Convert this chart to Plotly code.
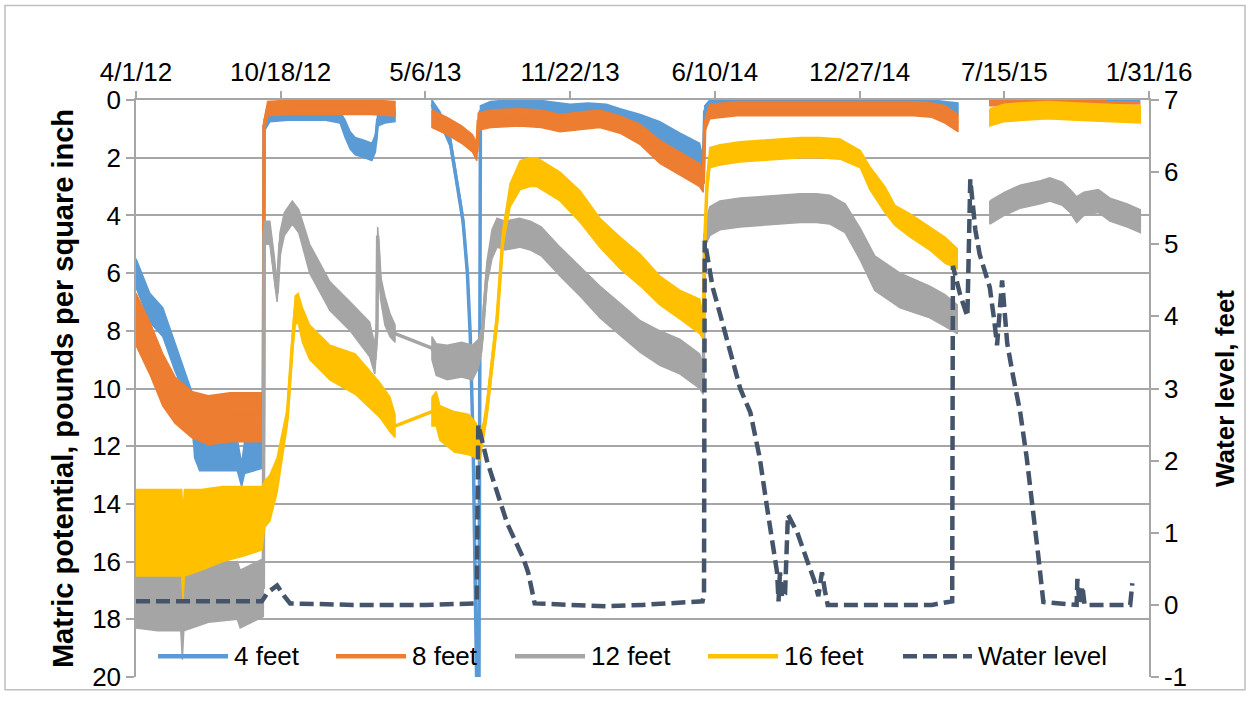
import plotly.graph_objects as go
import pandas as pd

# ---------------- data (days since 4/1/2012) ----------------
START = pd.Timestamp("2012-04-01")

ft4_day = [0, 19, 37, 54, 68, 77, 81, 88, 110, 140, 146, 150, 176, 177, 185, 210, 240, 262, 282, 289, 296, 303, 316, 326, 331, 334, 344, 358, None,
           409, 420, 434, 438, 445, 452, 458, 462, 466, 469, 471, 474, 476, 490, 515, 540, 570, 600, 625, 650, 669, 697, 724, 752, 779, 784,
           786, 793, 830, 870, 910, 950, 990, 1030, 1070, 1100, 1118, 1136, None,
           1180, 1220, 1260, 1300, 1340, 1388]
ft4_val = [6.0, 7.2, 7.7, 8.9, 9.8, 10.5, 11.9, 12.3, 12.3, 12.3, 13.0, 12.4, 12.2, 0.9, 0.55, 0.5, 0.5, 0.5, 0.6, 1.0, 1.4, 1.6, 1.7, 1.8, 1.5, 0.7, 0.6, 0.55, None,
           0.15, 0.6, 1.4, 2.0, 3.0, 4.2, 6.0, 8.2, 12.0, 17.0, 20.5, 20.5, 0.4, 0.25, 0.2, 0.15, 0.25, 0.35, 0.35, 0.4, 0.55, 0.8, 1.1, 1.5, 1.9, 2.4,
           0.4, 0.15, 0.15, 0.15, 0.15, 0.15, 0.15, 0.15, 0.15, 0.15, 0.2, 0.3, None,
           0.05, 0.05, 0.05, 0.05, 0.05, 0.05]
ft4_noise = [0.5, 0.5, 0.5, 0.5, 0.4, 0.4, 0.5, 0.55, 0.55, 0.55, 0.4, 0.55, 0.55, 0.2, 0.2, 0.2, 0.2, 0.2, 0.2, 0.3, 0.3, 0.3, 0.3, 0.3, 0.3, 0.2, 0.2, 0.2, None,
             0.15, 0.2, 0.2, 0.2, 0.2, 0.2, 0.2, 0.15, 0.1, 0, 0, 0, 0.2, 0.2, 0.2, 0.2, 0.2, 0.2, 0.25, 0.25, 0.25, 0.3, 0.35, 0.35, 0.4, 0.3,
             0.2, 0.15, 0.15, 0.15, 0.15, 0.15, 0.15, 0.15, 0.15, 0.15, 0.15, 0.2, None,
             0.05, 0.05, 0.05, 0.05, 0.05, 0.05]

ft8_day = [0, 19, 37, 54, 77, 100, 130, 150, 176, 177, 182, 215, 250, 290, 325, 358, None,
           409, 430, 450, 465, 471, 473, 490, 530, 560, 586, 620, 641, 669, 697, 724, 752, 779, 784,
           786, 793, 830, 865, 900, 935, 970, 1010, 1050, 1075, 1100, 1118, 1136, None,
           1180, 1220, 1260, 1300, 1340, 1388]
ft8_val = [7.6, 8.6, 9.7, 10.4, 10.9, 11.1, 11.0, 11.0, 11.0, 0.9, 0.3, 0.25, 0.25, 0.25, 0.25, 0.3, None,
           0.65, 0.9, 1.2, 1.5, 1.8, 0.75, 0.65, 0.6, 0.65, 0.8, 0.7, 0.65, 0.85, 1.2, 1.8, 2.2, 2.6, 2.9,
           0.9, 0.4, 0.3, 0.3, 0.3, 0.3, 0.3, 0.3, 0.3, 0.3, 0.35, 0.5, 0.8, None,
           0.1, 0.1, 0.1, 0.1, 0.1, 0.1]
ft8_noise = [0.9, 0.9, 0.9, 0.8, 0.8, 0.85, 0.85, 0.85, 0.85, 0.2, 0.25, 0.25, 0.25, 0.25, 0.25, 0.25, None,
             0.3, 0.3, 0.3, 0.3, 0.3, 0.3, 0.3, 0.3, 0.3, 0.3, 0.3, 0.3, 0.3, 0.35, 0.4, 0.4, 0.4, 0.3,
             0.2, 0.25, 0.25, 0.25, 0.25, 0.25, 0.25, 0.25, 0.25, 0.25, 0.25, 0.3, 0.3, None,
             0.1, 0.1, 0.1, 0.1, 0.1, 0.1]

ft12_day = [0, 30, 62, 64, 66, 100, 140, 144, 176, 177, 185, 191, 195, 199, 205, 216, 225, 240, 268, 296, 323, 330, 333, 334, 338, 344, 351, 358,
            409, 415, 430, 450, 465, 473, 478, 485, 492, 499, 510, 530, 545, 560, 586, 614, 641, 669, 697, 724, 752, 779, 784,
            786, 793, 807, 835, 862, 890, 918, 940, 959, 980, 1001, 1021, 1056, 1097, 1118, 1135, None,
            1180, 1200, 1222, 1250, 1263, 1280, 1291, 1300, 1310, 1330, 1346, 1370, 1388]
ft12_val = [17.2, 17.3, 17.3, 18.3, 17.3, 17.1, 17.0, 17.3, 16.9, 4.6, 4.6, 5.8, 6.7, 5.0, 4.3, 3.9, 4.2, 5.5, 6.8, 7.5, 8.3, 9.0, 8.0, 4.7, 6.5, 7.3, 7.8, 8.1,
            8.6, 9.0, 9.1, 9.0, 9.1, 8.8, 8.3, 6.0, 5.0, 4.6, 4.7, 4.6, 4.7, 4.9, 5.6, 6.3, 7.0, 7.6, 8.2, 8.6, 8.9, 9.4, 9.7,
            4.7, 4.2, 4.0, 3.9, 3.85, 3.8, 3.75, 3.75, 3.8, 4.1, 5.0, 6.0, 6.6, 7.0, 7.3, 7.6, None,
            3.9, 3.6, 3.35, 3.2, 3.1, 3.25, 3.5, 3.8, 3.6, 3.5, 3.8, 4.0, 4.2]
ft12_noise = [1.1, 1.1, 1.1, 1.1, 1.1, 1.0, 1.0, 1.0, 1.0, 0.4, 0.4, 0.4, 0.3, 0.4, 0.4, 0.4, 0.4, 0.5, 0.5, 0.5, 0.6, 0.5, 0.4, 0.3, 0.4, 0.5, 0.4, 0.3,
              0.4, 0.55, 0.6, 0.6, 0.6, 0.5, 0.4, 0.4, 0.5, 0.5, 0.5, 0.5, 0.5, 0.5, 0.5, 0.5, 0.55, 0.55, 0.55, 0.6, 0.6, 0.6, 0.5,
              0.4, 0.5, 0.5, 0.5, 0.5, 0.5, 0.5, 0.5, 0.5, 0.5, 0.55, 0.6, 0.6, 0.55, 0.55, 0.5, None,
              0.4, 0.4, 0.4, 0.4, 0.4, 0.4, 0.4, 0.45, 0.4, 0.4, 0.4, 0.4, 0.4]

ft16_day = [0, 30, 60, 63, 65, 67, 90, 120, 150, 174, 178, 185, 195, 199, 209, 216, 220, 224, 230, 240, 268, 303, 337, 351, 358,
            409, 415, 420, 440, 460, 470, 475, 480, 485, 492, 499, 507, 517, 531, 545, 554, 586, 614, 641, 669, 697, 724, 752, 779, 784,
            786, 789, 793, 807, 835, 862, 890, 918, 945, 973, 1001, 1014, 1035, 1049, 1070, 1097, 1118, 1135, None,
            1180, 1200, 1222, 1260, 1300, 1323, 1346, 1367, 1388]
ft16_val = [15.0, 15.0, 15.0, 15.0, 15.8, 15.0, 14.9, 14.7, 14.6, 14.5, 14.0, 13.8, 13.0, 12.4, 11.0, 8.5, 7.3, 7.2, 7.8, 8.4, 9.1, 9.5, 10.4, 10.9, 11.3,
            10.8, 10.7, 11.2, 11.5, 11.6, 11.8, 12.0, 11.5, 10.7, 9.2, 7.6, 4.8, 3.3, 2.6, 2.5, 2.5, 3.0, 3.7, 4.6, 5.3, 5.9, 6.6, 7.1, 7.5, 7.9,
            5.0, 3.0, 2.0, 1.9, 1.8, 1.75, 1.7, 1.65, 1.65, 1.7, 2.05, 2.7, 3.45, 4.0, 4.35, 4.8, 5.2, 5.5, None,
            0.6, 0.45, 0.4, 0.35, 0.4, 0.42, 0.45, 0.48, 0.5]
ft16_noise = [1.5, 1.5, 1.5, 1.5, 1.5, 1.5, 1.4, 1.3, 1.2, 1.1, 0.8, 0.8, 0.6, 0.5, 0.3, 0.3, 0.5, 0.5, 0.6, 0.6, 0.6, 0.7, 0.6, 0.6, 0.4,
              0.5, 0.6, 0.6, 0.7, 0.7, 0.6, 0.5, 0.3, 0.3, 0.3, 0.3, 0.3, 0.4, 0.5, 0.5, 0.5, 0.5, 0.55, 0.5, 0.55, 0.55, 0.5, 0.5, 0.6, 0.4,
              0.3, 0.3, 0.35, 0.35, 0.35, 0.35, 0.35, 0.35, 0.35, 0.35, 0.3, 0.4, 0.45, 0.35, 0.4, 0.4, 0.45, 0.35, None,
              0.3, 0.3, 0.3, 0.3, 0.3, 0.3, 0.3, 0.3, 0.3]

water_day = [0, 100, 174, 182, 195, 205, 213, 300, 400, 469, 471, 473, 485, 513, 535, 542, 551, 650, 700, 783, 785, 786, 797, 807, 814,
             835, 849, 862, 872, 879, 886, 888, 890, 893, 897, 901, 914, 927, 938, 943, 948, 952, 956, 1000, 1100, 1128, 1129, 1139,
             1149, 1153, 1160, 1166, 1171, 1180, 1186, 1190, 1197, 1204, 1212, 1222, 1231, 1240, 1247, 1254, 1300, 1301, 1304, 1308,
             1311, 1374, 1377]
water_val = [0.05, 0.05, 0.05, 0.17, 0.27, 0.12, 0.02, 0.0, 0.0, 0.02, 0.05, 2.5, 2.0, 1.13, 0.65, 0.45, 0.02, -0.02, 0.0, 0.05, 0.15,
             5.05, 4.4, 4.04, 3.77, 3.0, 2.67, 2.04, 1.36, 0.9, 0.45, 0.05, 0.45, 0.1, 0.15, 1.25, 1.0, 0.63, 0.32, 0.12, 0.45, 0.2,
             0.0, 0.0, 0.0, 0.05, 4.7, 4.3, 4.0, 5.9, 5.2, 4.86, 4.68, 4.4, 3.95, 3.6, 4.5, 3.63, 3.18, 2.67, 2.04, 1.31, 0.68, 0.04,
             0.0, 0.36, 0.0, 0.26, 0.0, 0.0, 0.3]

tick_dates = ["2012-04-01", "2012-10-18", "2013-05-06", "2013-11-22", "2014-06-10", "2014-12-27", "2015-07-15", "2016-01-31"]
tick_labels = ["4/1/12", "10/18/12", "5/6/13", "11/22/13", "6/10/14", "12/27/14", "7/15/15", "1/31/16"]
right_ticks = [-1, 0, 1, 2, 3, 4, 5, 6, 7]
right_labels = ["-1", "0", "1", "2", "3", "4", "5", "6", "7"]

series_names = ["4 feet", "8 feet", "12 feet", "16 feet", "Water level"]
series_colors = ["#5B9BD5", "#ED7D31", "#A5A5A5", "#FFC000", "#44546A"]

FONT = "Liberation Sans, Arial, sans-serif"


def to_dates(days):
    return [None if d is None else START + pd.Timedelta(days=d) for d in days]


def band_polygons(days, vals, noise, max_gap=45):
    """closed polygons of the noise envelope, one per run of readings"""
    xs, ys = [], []
    run = []

    def flush():
        if len(run) > 1:
            d = [r[0] for r in run]
            lo = [r[1] - r[2] for r in run]
            hi = [r[1] + r[2] for r in run]
            xs.extend(to_dates(d + d[::-1] + [d[0]]))
            ys.extend(lo + hi[::-1] + [lo[0]])
            xs.append(None)
            ys.append(None)

    for d, v, n in zip(days, vals, noise):
        if d is None:
            flush(); run = []
            continue
        if run and d - run[-1][0] > max_gap:
            flush(); run = []
        run.append((d, v, n))
    flush()
    return xs, ys


fig = go.Figure()
for name, color, d, v, n in [
    ("4 feet", series_colors[0], ft4_day, ft4_val, ft4_noise),
    ("8 feet", series_colors[1], ft8_day, ft8_val, ft8_noise),
    ("12 feet", series_colors[2], ft12_day, ft12_val, ft12_noise),
    ("16 feet", series_colors[3], ft16_day, ft16_val, ft16_noise),
]:
    bx, by = band_polygons(d, v, n)
    fig.add_trace(go.Scatter(x=bx, y=by, mode="lines", fill="toself", fillcolor=color,
                             line=dict(color=color, width=1.5), hoverinfo="skip", showlegend=False))
    fig.add_trace(go.Scatter(x=to_dates(d), y=v, mode="lines", name=name,
                             line=dict(color=color, width=3.5), connectgaps=False, showlegend=False))

fig.add_trace(go.Scatter(x=to_dates(water_day), y=water_val, mode="lines", name="Water level", yaxis="y2",
                         line=dict(color=series_colors[4], width=4.5, dash="14px,6px"), showlegend=False))

# ---------------- layout ----------------
L, R, T, B = 136, 102, 100, 18
W, H = 1251, 704
pw, ph = W - L - R, H - T - B


def px_x(p):
    return (p - L) / pw


def px_y(p):
    return (H - B - p) / ph


grid = "#A6A6A6"
fig.update_layout(
    width=W, height=H,
    margin=dict(l=L, r=R, t=T, b=B),
    paper_bgcolor="white", plot_bgcolor="white",
    font=dict(family=FONT, size=26, color="black"),
    showlegend=False,
    xaxis=dict(type="date", side="top", range=[tick_dates[0], tick_dates[-1]],
               tickvals=tick_dates, ticktext=tick_labels, showgrid=False, zeroline=False,
               showline=True, linecolor=grid, linewidth=1.5, ticks="outside", ticklen=7,
               tickcolor=grid, tickwidth=1.5, tickfont=dict(size=26)),
    yaxis=dict(range=[20, 0], dtick=2, tick0=0, showgrid=True, gridcolor=grid, gridwidth=1.5,
               zeroline=False, showline=True, linecolor=grid, linewidth=1.5, ticks="outside",
               ticklen=8, tickcolor=grid, tickwidth=1.5, tickfont=dict(size=26),
               title=dict(text="Matric potential, pounds per square inch",
                          font=dict(size=29, weight="bold"), standoff=10)),
    yaxis2=dict(range=[-1, 7], tickvals=right_ticks, ticktext=right_labels, overlaying="y", side="right",
                showgrid=False, zeroline=False,
                showline=True, linecolor=grid, linewidth=1.5, ticks="outside", ticklen=8,
                tickcolor=grid, tickwidth=1.5, tickfont=dict(size=26),
                title=dict(text="Water level, feet", font=dict(size=26, weight="bold"), standoff=30)),
)

# outer chart border
fig.add_shape(type="rect", xref="paper", yref="paper", x0=px_x(5), x1=px_x(1245), y0=px_y(699), y1=px_y(4),
              line=dict(color="#BFBFBF", width=1.5), fillcolor="rgba(0,0,0,0)", layer="below")

# legend (drawn inside the plot at the bottom)
leg_y = px_y(665)
leg_line_x = [(158, 228), (336, 406), (515, 585), (708, 778), (903, 972)]
for i, name in enumerate(series_names):
    x0, x1 = leg_line_x[i]
    fig.add_shape(type="line", xref="paper", yref="paper", x0=px_x(x0), x1=px_x(x1), y0=leg_y, y1=leg_y,
                  line=dict(color=series_colors[i], width=4.5,
                            dash="solid" if i < 4 else "14px,6px"))
    fig.add_annotation(xref="paper", yref="paper", x=px_x(x1 + 4), y=leg_y, text=name, showarrow=False,
                       xanchor="left", yanchor="middle", font=dict(size=26, family=FONT, color="black"))

fig.write_html("out.html", config={"displayModeBar": False},
               post_script="document.body.style.margin='0';")
